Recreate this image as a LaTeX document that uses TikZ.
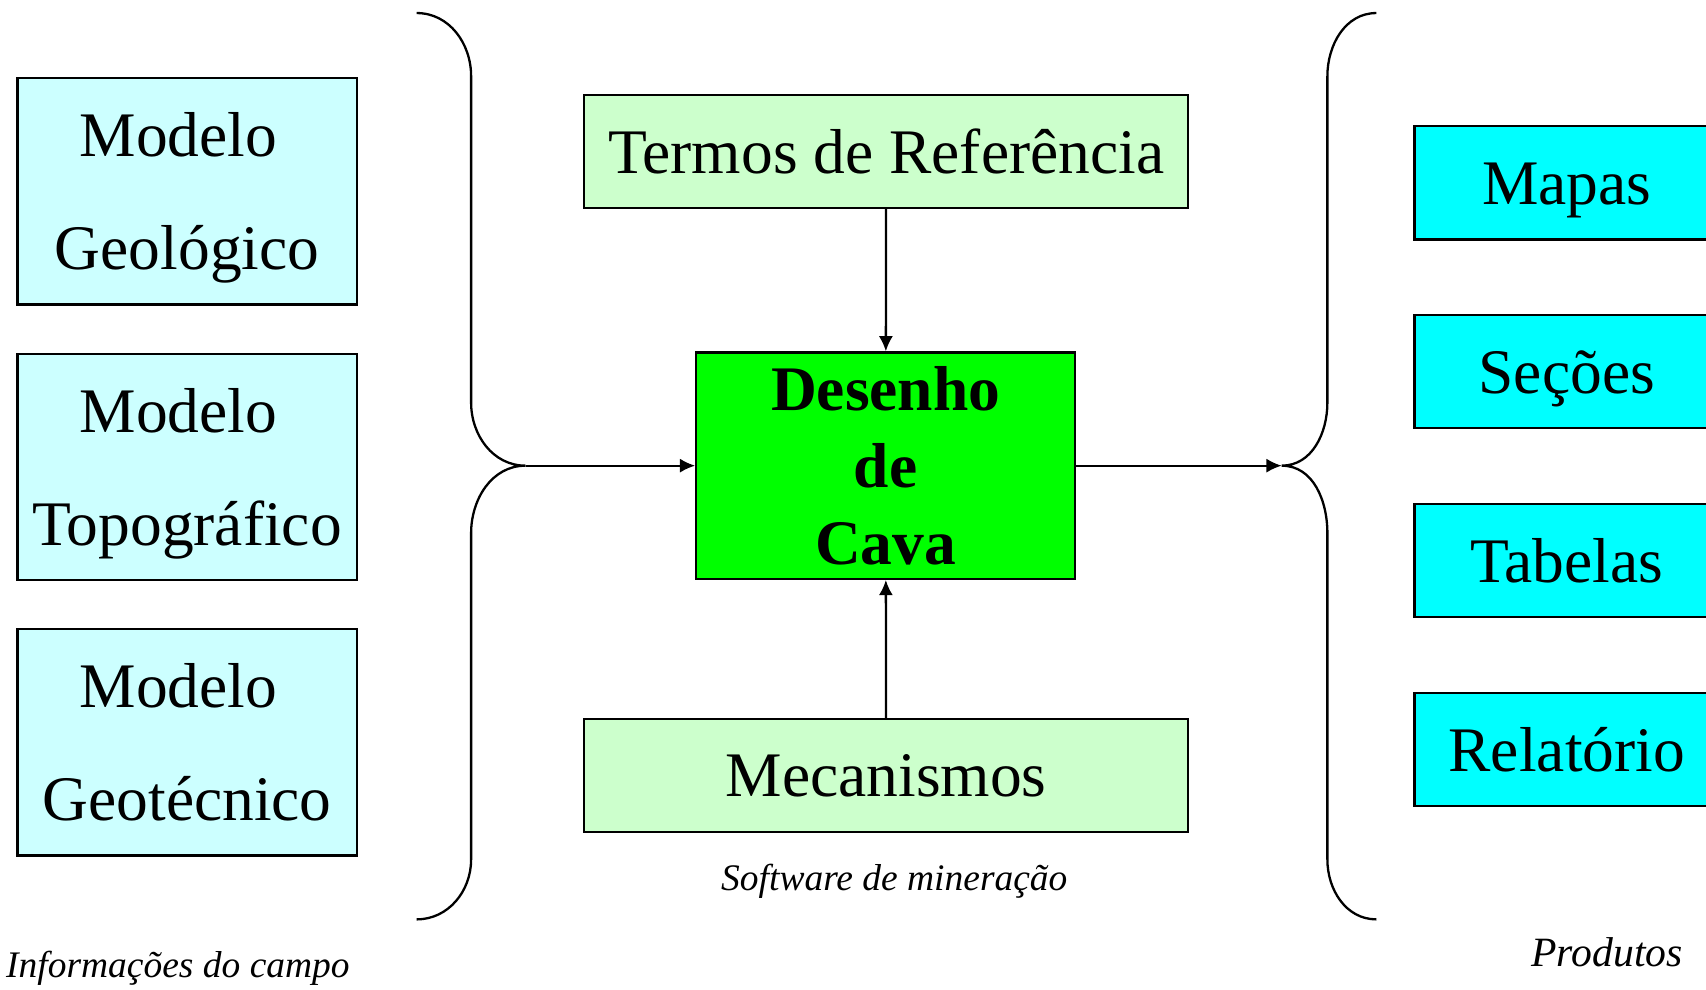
\documentclass[tikz,border=0pt]{standalone}
\usepackage{fontspec}
\setmainfont{Liberation Serif}
\usetikzlibrary{arrows.meta, positioning}
\tikzset{>={Latex[length=1.4mm,width=1.3mm]}}
\definecolor{infocyan}{HTML}{CCFFFF}
\definecolor{reflgreen}{HTML}{CCFFCC}
\definecolor{cavagreen}{HTML}{00FF00}
\definecolor{prodcyan}{HTML}{00FFFF}
\newcommand{\linhaalta}{\rule{0pt}{15pt}}
\newcommand{\linhafundo}{\rule[-3.6pt]{0pt}{3.6pt}}
\tikzset{
  caixa/.style={draw, line width=0.6pt, inner sep=0pt, align=center,
    font=\fontsize{16.6}{29.6}\selectfont},
  info/.style={caixa, fill=infocyan, minimum width=3.12cm, minimum height=2.08cm},
  refbox/.style={caixa, fill=reflgreen, minimum width=5.55cm, minimum height=1.04cm},
  prod/.style={caixa, fill=prodcyan, minimum width=2.8cm, minimum height=1.04cm,
    text height=13pt, text depth=1.4pt},
  legenda/.style={font=\fontsize{9.8}{12}\selectfont\itshape, inner sep=0pt},
  chave/.style={line width=0.6pt}
}

\begin{document}
\begin{tikzpicture}
	\useasboundingbox (0,0) rectangle (15.68,9.09);
	% entradas
	\node[info] (geo) at (1.72,7.33) {\linhaalta Modelo\hspace*{0.16cm}\\Geológico\linhafundo};
	\node[info, below=0.43cm of geo] (topo) {\linhaalta Modelo\hspace*{0.16cm}\\Topográfico\linhafundo};
	\node[info, below=0.43cm of topo] (geot) {\linhaalta Modelo\hspace*{0.16cm}\\Geotécnico\linhafundo};
	% centro
	\node[refbox] (termos) at (8.145,7.70) {Termos de Referência};
	\node[caixa, fill=cavagreen, minimum width=3.48cm, minimum height=2.08cm,
		font=\fontsize{16.6}{20.2}\selectfont\bfseries] (cava) at (8.14,4.81) {Desenho\\de\\Cava};
	\node[refbox] (mec) at (8.145,1.96) {Mecanismos};
	% produtos
	\node[prod] (mapas) at (14.40,7.41) {Mapas};
	\node[prod, below=0.675cm of mapas] (secoes) {Seções};
	\node[prod, below=0.675cm of secoes] (tabelas) {Tabelas};
	\node[prod, below=0.675cm of tabelas] (relatorio) {Relatório};
	% chaves
	\coordinate (ltip) at (4.83,4.81);
	\coordinate (rtip) at (11.78,4.81);
	\draw[chave] (3.83,8.97) to[out=0,in=90] (4.33,8.39) -- (4.33,5.39)
		to[out=-90,in=180] (ltip) to[out=180,in=90] (4.33,4.19) -- (4.33,1.19)
		to[out=-90,in=0] (3.83,0.64);
	\draw[chave] (12.65,8.97) to[out=180,in=90] (12.20,8.39) -- (12.20,5.39)
		to[out=-90,in=0] (rtip) to[out=0,in=90] (12.20,4.19) -- (12.20,1.19)
		to[out=-90,in=180] (12.65,0.64);
	% setas
	\draw[->, line width=0.6pt] (ltip) -- (cava.west);
	\draw[->, line width=0.6pt] (termos) -- (cava);
	\draw[->, line width=0.6pt] (mec) -- (cava);
	\draw[->, line width=0.6pt] (cava.east) -- (rtip);
	% legendas
	\node[legenda, anchor=west] (infocampo) at (0.05,0.19) {Informações do campo};
	\node[legenda] (software) at (8.22,0.99) {Software de mineração};
	\node[legenda, font=\fontsize{10.9}{13}\selectfont\itshape] (produtos) at (14.77,0.34) {Produtos};
\end{tikzpicture}
\end{document}
